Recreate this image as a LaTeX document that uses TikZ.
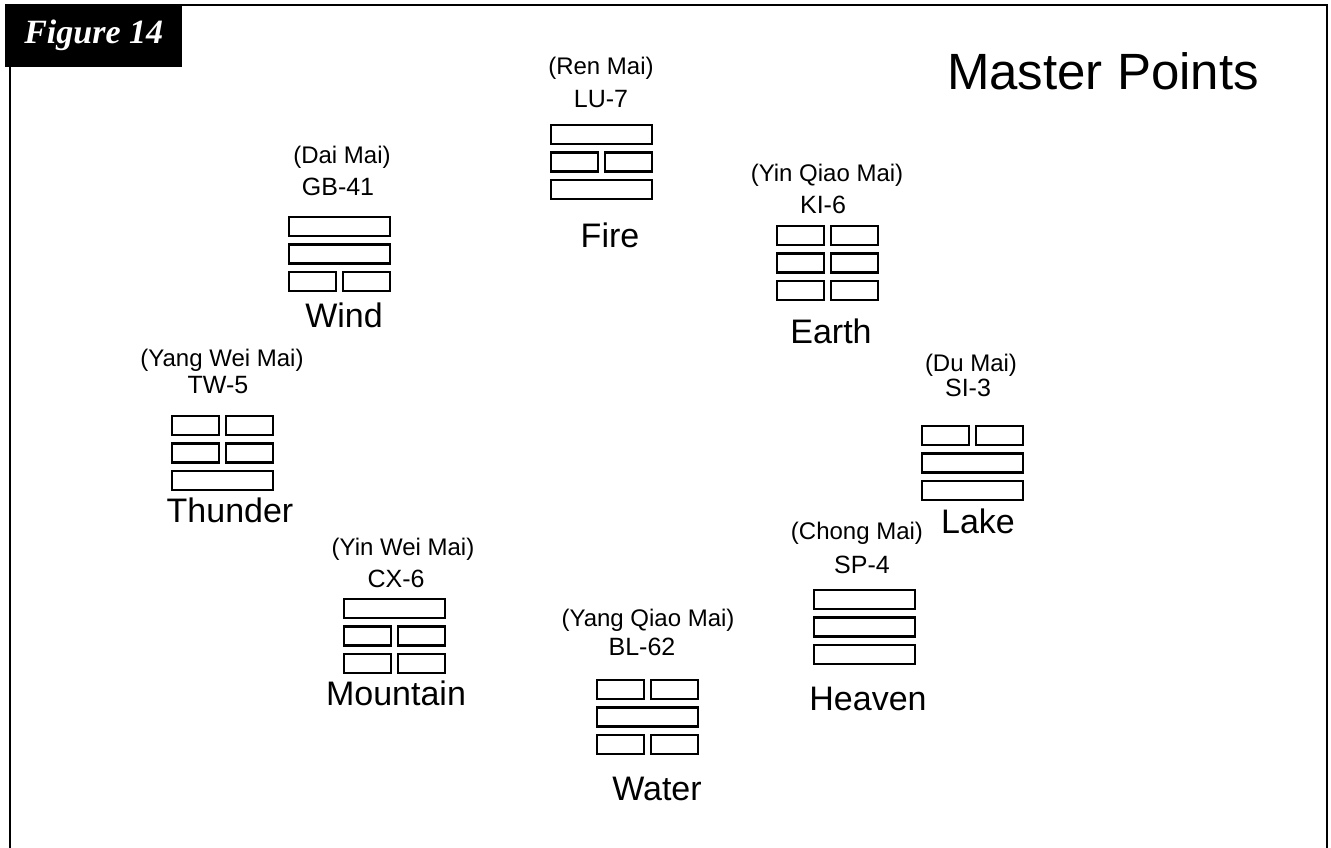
\documentclass[tikz,border=0pt]{standalone}
\usepackage{fontspec}
\setmainfont{Liberation Sans}
\newfontfamily\figfont{Liberation Serif}
\usetikzlibrary{positioning}

% one line of a trigram: 1 = solid (yang), 0 = broken (yin)
\newcommand{\trigrambar}[3]{%
  \ifnum#3=1
    \draw[bar] (#1,#2) rectangle ++(101,19);
  \else
    \draw[bar] (#1,#2) rectangle ++(47,19);
    \draw[bar] (#1+54,#2) rectangle ++(47,19);
  \fi}
% whole trigram, top line first
\newcommand{\trigram}[5]{%
  \trigrambar{#1}{#2}{#3}
  \trigrambar{#1}{#2+27.5}{#4}
  \trigrambar{#1}{#2+55}{#5}}

\begin{document}
\begin{tikzpicture}[
    x=1pt, y=-1pt,
    bar/.style={draw, line width=2.2pt},
    vessel/.style={font=\fontsize{24}{28}\selectfont, anchor=base, inner sep=0pt},
    masterpt/.style={font=\fontsize{25}{30}\selectfont, anchor=base, inner sep=0pt},
    element/.style={font=\fontsize{34}{40}\selectfont, anchor=base, inner sep=0pt}
  ]
  \useasboundingbox (0,0) rectangle (1331,848);

  % frame and figure tag
  \draw[line width=2pt] (182,5) -- (1327,5) -- (1327,849);
  \draw[line width=2pt] (10,60) -- (10,849);
  \node[fill=black, text=white, anchor=north west, inner sep=0pt,
        minimum width=177, minimum height=63,
        font=\figfont\bfseries\itshape\fontsize{34}{40}\selectfont] (figtag) at (5,4) {Figure 14};
  \node[font=\fontsize{51}{60}\selectfont, anchor=base, inner sep=0pt] (title) at (1103,90) {Master Points};

  % Fire
  \node[vessel] (fire-v) at (601,75) {(Ren Mai)};
  \node[masterpt] (fire-p) at (601,108) {LU-7};
  \trigram{551}{125}{1}{0}{1}
  \node[element] (fire) at (610,247) {Fire};

  % Wind
  \node[vessel] (wind-v) at (342,164) {(Dai Mai)};
  \node[masterpt] (wind-p) at (338,195) {GB-41};
  \trigram{289}{217}{1}{1}{0}
  \node[element] (wind) at (344,327) {Wind};

  % Earth
  \node[vessel] (earth-v) at (827,182) {(Yin Qiao Mai)};
  \node[masterpt] (earth-p) at (823,213) {KI-6};
  \trigram{777}{226}{0}{0}{0}
  \node[element] (earth) at (831,343) {Earth};

  % Thunder
  \node[vessel] (thunder-v) at (222,366) {(Yang Wei Mai)};
  \node[masterpt] (thunder-p) at (218,393) {TW-5};
  \trigram{172}{416}{0}{0}{1}
  \node[element] (thunder) at (230,522) {Thunder};

  % Lake
  \node[vessel] (lake-v) at (971,371) {(Du Mai)};
  \node[masterpt] (lake-p) at (968,396) {SI-3};
  \trigram{922}{426}{0}{1}{1}
  \node[element] (lake) at (978,533) {Lake};

  % Mountain
  \node[vessel] (mountain-v) at (403,555) {(Yin Wei Mai)};
  \node[masterpt] (mountain-p) at (396,587) {CX-6};
  \trigram{344}{599}{1}{0}{0}
  \node[element] (mountain) at (396,705) {Mountain};

  % Heaven
  \node[vessel] (heaven-v) at (857,539) {(Chong Mai)};
  \node[masterpt] (heaven-p) at (862,573) {SP-4};
  \trigram{814}{590}{1}{1}{1}
  \node[element] (heaven) at (868,710) {Heaven};

  % Water
  \node[vessel] (water-v) at (648,626) {(Yang Qiao Mai)};
  \node[masterpt] (water-p) at (642,655) {BL-62};
  \trigram{597}{680}{0}{1}{0}
  \node[element] (water) at (657,800) {Water};
\end{tikzpicture}
\end{document}
